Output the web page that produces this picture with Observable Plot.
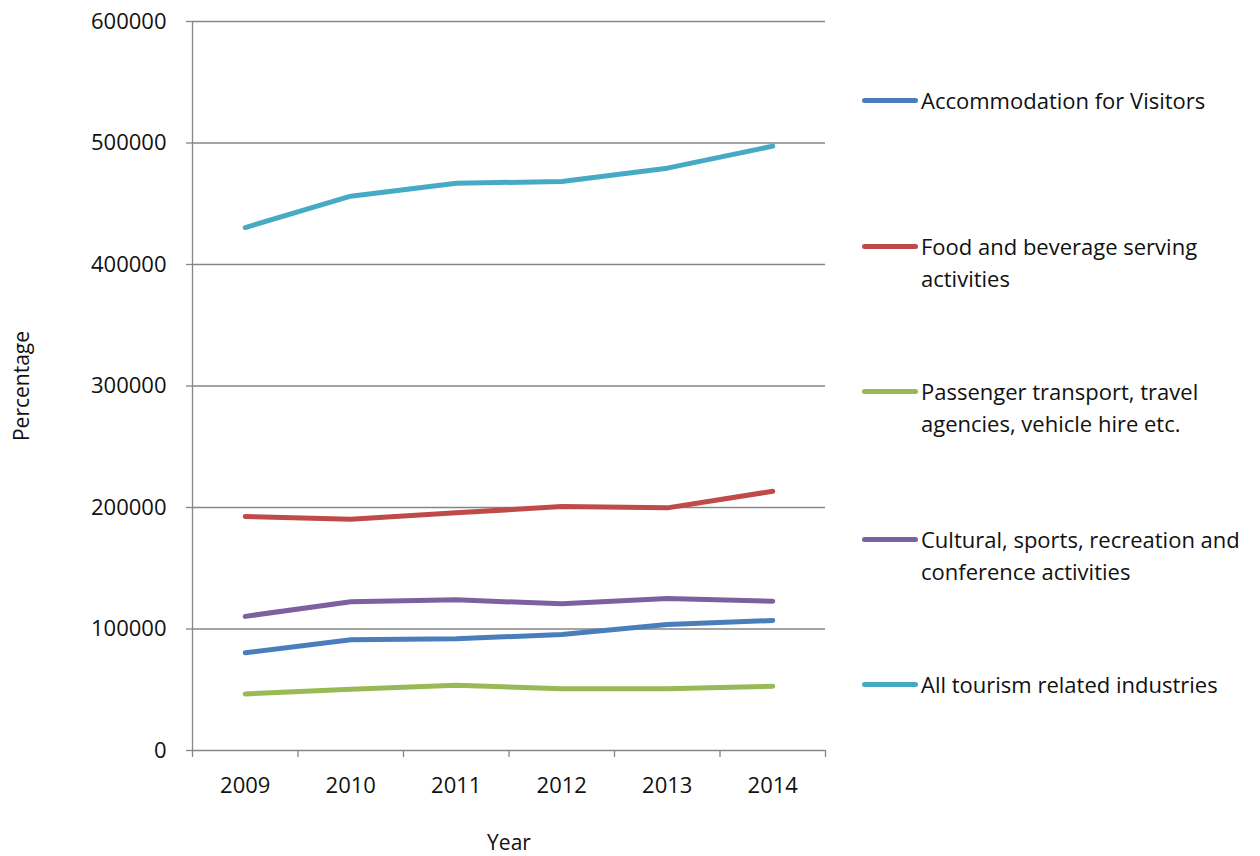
<!DOCTYPE html>
<html>
<head>
<meta charset="utf-8">
<script src="https://cdn.jsdelivr.net/npm/d3@7"></script>
<script src="https://cdn.jsdelivr.net/npm/@observablehq/plot@0.6"></script>
<style>
  html, body { margin: 0; padding: 0; background: #fff; }
  #wrap { position: relative; width: 1260px; height: 856px; font-family: "Open Sans", Lato, sans-serif; }
  #legend { position: absolute; left: 862px; top: 0; }
  .entry { position: absolute; left: 0; display: flex; align-items: flex-start; }
  .sw { width: 56px; height: 5px; border-radius: 3px; margin-top: 14px; flex: none; }
  .lbl { margin-left: 3px; font-size: 22px; line-height: 32px; color: #111; width: 340px; white-space: nowrap; }
</style>
</head>
<body>
<div id="wrap"><div id="legend"></div></div>
<script>
const years = [2009, 2010, 2011, 2012, 2013, 2014];
const seriesNames = [
  "Accommodation for Visitors",
  "Food and beverage serving activities",
  "Passenger transport, travel agencies, vehicle hire etc.",
  "Cultural, sports, recreation and conference activities",
  "All tourism related industries"
];
const legendLines = [
  ["Accommodation for Visitors"],
  ["Food and beverage serving", "activities"],
  ["Passenger transport, travel", "agencies, vehicle hire etc."],
  ["Cultural, sports, recreation and", "conference activities"],
  ["All tourism related industries"]
];
const seriesColors = ["#4A7EBB", "#BE4B48", "#98B954", "#7D60A0", "#46AAC5"];
const accommodation = [80400, 91100, 91900, 95500, 103700, 107000];
const foodBeverage = [192600, 190400, 195600, 200800, 199700, 213400];
const passengerTransport = [46600, 50500, 53800, 50800, 50800, 52900];
const cultural = [110400, 122500, 124000, 120700, 125100, 122900];
const allTourism = [430400, 456200, 466900, 468300, 479300, 497400];
const yTicks = [0, 100000, 200000, 300000, 400000, 500000, 600000];

const seriesValues = [accommodation, foodBeverage, passengerTransport, cultural, allTourism];
const rows = [];
seriesNames.forEach((name, i) => {
  years.forEach((yr, j) => rows.push({series: name, year: yr, value: seriesValues[i][j]}));
});
const boundaries = years.map(y => y - 0.5).concat([years[years.length - 1] + 0.5]);
const gray = "#868686";

const chart = Plot.plot({
  width: 1260,
  height: 856,
  marginLeft: 192,
  marginRight: 435,
  marginTop: 21,
  marginBottom: 106,
  style: {fontFamily: "'Open Sans', Lato, sans-serif", fontSize: "21px", color: "#111", background: "#fff"},
  x: {type: "linear", domain: [boundaries[0], boundaries[boundaries.length - 1]], axis: null},
  y: {domain: [0, 600000], axis: null},
  color: {domain: seriesNames, range: seriesColors},
  marks: [
    Plot.gridY(yTicks.filter(d => d > 0), {stroke: gray, strokeOpacity: 1, strokeWidth: 1.3}),
    Plot.axisY(yTicks, {tickSize: 6, tickPadding: 20, stroke: gray, strokeWidth: 1.3, tickFormat: d => String(d), label: null, fontSize: 22}),
    Plot.axisX(boundaries, {tickSize: 7, stroke: gray, strokeWidth: 1.3, tickFormat: () => "", label: null}),
    Plot.ruleX([boundaries[0]], {stroke: gray, strokeWidth: 1.3}),
    Plot.ruleY([0], {stroke: gray, strokeWidth: 1.3}),
    Plot.text(years, {x: d => d, frameAnchor: "bottom", lineAnchor: "middle", dy: 35, text: d => String(d), fontSize: 22, fill: "#111"}),
    Plot.text(["Year"], {frameAnchor: "bottom", lineAnchor: "middle", dy: 93, fontSize: 21, fill: "#111"}),
    Plot.text(["Percentage"], {frameAnchor: "left", textAnchor: "middle", lineAnchor: "middle", dx: -170, rotate: -90, fontSize: 21, fill: "#111"}),
    Plot.line(rows, {x: "year", y: "value", z: "series", stroke: "series", strokeWidth: 5, strokeLinecap: "round", strokeLinejoin: "round"})
  ]
});
document.getElementById("wrap").prepend(chart);

const legend = document.getElementById("legend");
const entryTops = [100, 246, 391, 539, 684];
seriesNames.forEach((name, i) => {
  const e = document.createElement("div");
  e.className = "entry";
  e.style.top = (entryTops[i] - 16) + "px";
  const sw = document.createElement("div");
  sw.className = "sw";
  sw.style.background = seriesColors[i];
  const lbl = document.createElement("div");
  lbl.className = "lbl";
  lbl.innerHTML = legendLines[i].join("<br>");
  lbl.title = name;
  e.appendChild(sw);
  e.appendChild(lbl);
  legend.appendChild(e);
});
</script>
</body>
</html>
